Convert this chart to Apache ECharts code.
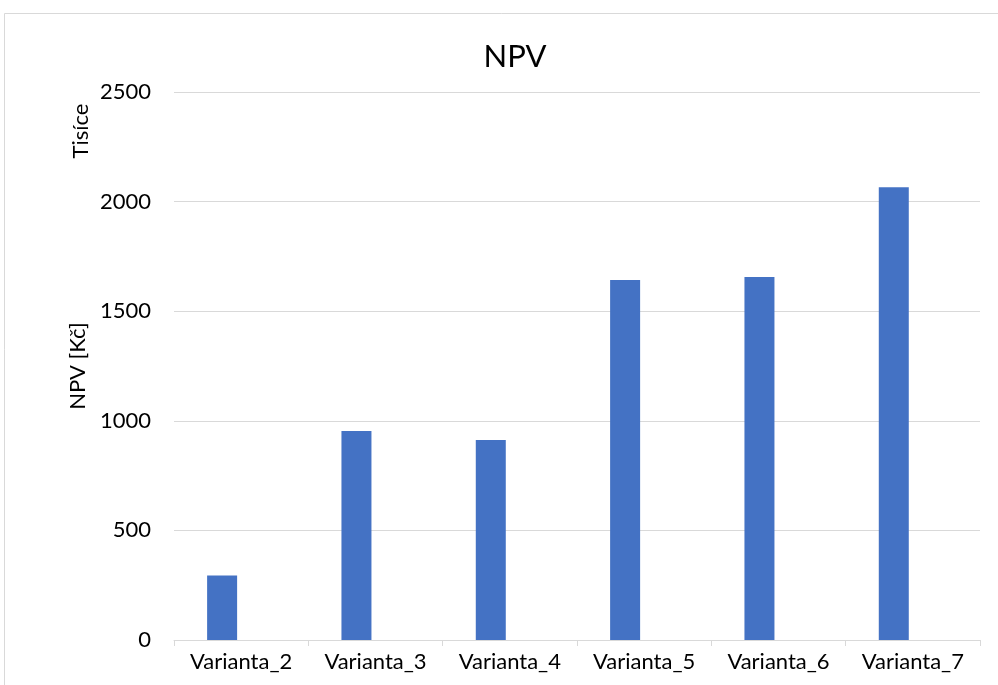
<!DOCTYPE html>
<html><head><meta charset="utf-8">
<script src="https://cdn.jsdelivr.net/npm/echarts@6/dist/echarts.min.js"></script>
<style>html,body{margin:0;padding:0;background:#fff}#c{width:998px;height:685px}</style>
</head><body><div id="c"></div>
<script>
const categories = ['Varianta_2','Varianta_3','Varianta_4','Varianta_5','Varianta_6','Varianta_7'];
const npvValues = [294, 954, 912, 1642, 1656, 2065];
const emptySeries = [null, null, null, null, null, null];
const yTicks = [0, 500, 1000, 1500, 2000, 2500];
const FONT = 'Lato, "Open Sans", sans-serif';
const chart = echarts.init(document.getElementById('c'));
chart.setOption({
  animation: false,
  backgroundColor: '#fff',
  title: {text: 'NPV', left: 510, top: 36, textAlign: 'center',
    textStyle: {fontFamily: FONT, fontSize: 31, fontWeight: 'normal', color: '#000'}},
  graphic: [
    {type: 'rect', shape: {x: 4.5, y: 13.5, width: 1000, height: 700}, style: {fill: 'none', stroke: '#d9d9d9', lineWidth: 1}, silent: true, z: -1},
    {type: 'text', x: 81, y: 131, rotation: Math.PI / 2,
      style: {text: 'Tisíce', font: '22px ' + FONT, fill: '#000', textAlign: 'center', textVerticalAlign: 'middle'}}
  ],
  grid: {left: 174, right: 18, top: 92, bottom: 45},
  xAxis: {
    type: 'category', data: categories,
    axisLine: {lineStyle: {color: '#d9d9d9', width: 1}},
    axisTick: {show: true, length: 6, lineStyle: {color: '#d9d9d9'}},
    axisLabel: {color: '#000', fontFamily: FONT, fontSize: 22, margin: 11}
  },
  yAxis: {
    type: 'value', min: 0, max: yTicks[yTicks.length - 1], interval: 500,
    name: 'NPV [Kč]', nameLocation: 'middle', nameGap: 82, nameRotate: 90,
    nameTextStyle: {color: '#000', fontFamily: FONT, fontSize: 22},
    axisLine: {show: false}, axisTick: {show: false},
    axisLabel: {color: '#000', fontFamily: FONT, fontSize: 22, margin: 23, formatter: v => String(v)},
    splitLine: {lineStyle: {color: '#d9d9d9', width: 1}}
  },
  series: [
    {type: 'bar', data: npvValues, barWidth: 30, barGap: '27%', itemStyle: {color: '#4472C4'}},
    {type: 'bar', data: emptySeries, barWidth: 30, itemStyle: {color: '#ED7D31'}}
  ]
});
</script></body></html>
